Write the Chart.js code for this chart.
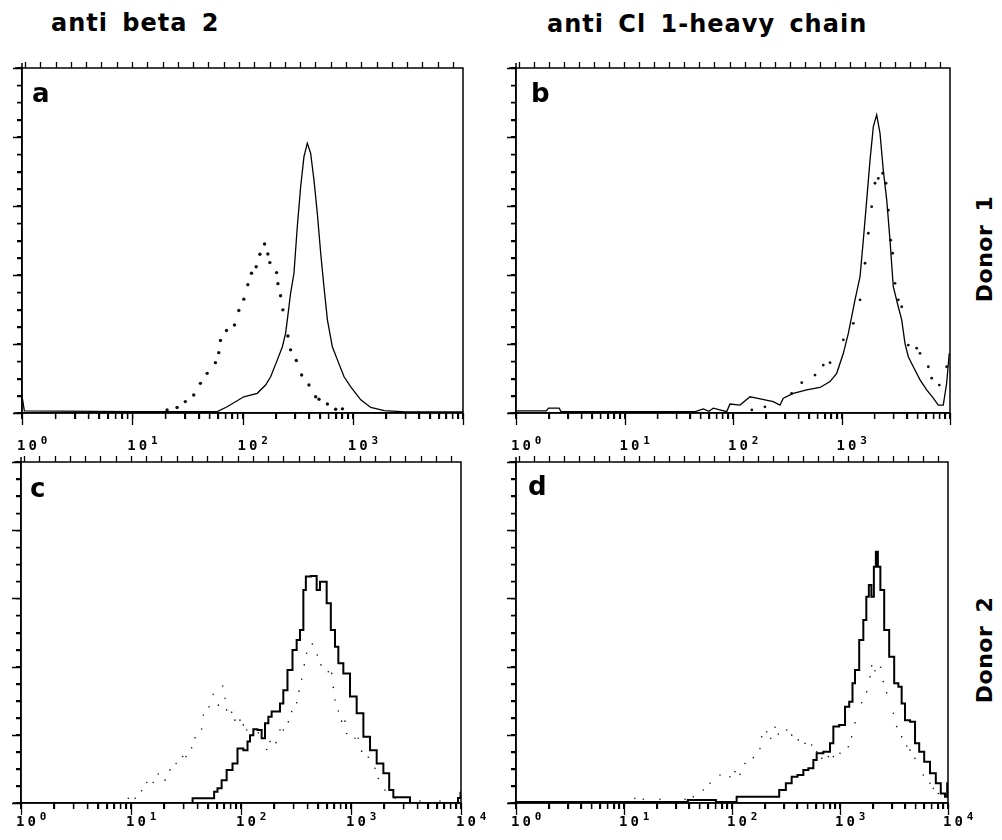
<!DOCTYPE html>
<html>
<head>
<meta charset="utf-8">
<script src="https://cdn.jsdelivr.net/npm/chart.js@4.4.1/dist/chart.umd.min.js"></script>
<style>
  body { margin: 0; background: #fff; width: 1002px; height: 840px; position: relative; overflow: hidden; font-family: "DejaVu Sans", sans-serif; color: #000; }
  canvas { position: absolute; }
  .head { position: absolute; font-weight: bold; font-size: 24px; line-height: 24px; letter-spacing: 1px; word-spacing: 5px; white-space: nowrap; }
  .letter { position: absolute; font-weight: bold; font-size: 26px; line-height: 26px; }
  .donor { position: absolute; font-weight: bold; font-size: 22px; line-height: 22px; white-space: nowrap; word-spacing: 5px; letter-spacing: 0.5px; transform: translate(-50%, -50%) rotate(-90deg); }
</style>
</head>
<body>
<div class="head" style="left:51px; top:11px;">anti beta 2</div>
<div class="head" style="left:547px; top:12px;">anti Cl 1-heavy chain</div>
<div class="donor" style="left:985px; top:249px;">Donor 1</div>
<div class="donor" style="left:985px; top:650px;">Donor 2</div>

<canvas id="pa" width="495" height="425" style="left:0px; top:40px;"></canvas>
<canvas id="pb" width="502" height="425" style="left:500px; top:40px;"></canvas>
<canvas id="pc" width="495" height="390" style="left:0px; top:450px;"></canvas>
<canvas id="pd" width="502" height="390" style="left:500px; top:450px;"></canvas>

<div class="letter" style="left:32px; top:80px;">a</div>
<div class="letter" style="left:531px; top:80px;">b</div>
<div class="letter" style="left:30px; top:475px;">c</div>
<div class="letter" style="left:528px; top:473px;">d</div>

<script>
// decade axis (fluorescence intensity, log)
const decadeValues = [1, 10, 100, 1000, 10000];
const decadeExponents = ['0', '1', '2', '3', '4'];
const tickBase = '10';

// a: anti beta 2, donor 1
const aSolidX = [1, 1.05, 10, 40, 58.9, 72.6, 102.7, 136, 162, 180, 207, 230, 246, 255, 273, 293, 314, 337, 361, 387, 415, 445, 477, 512, 548, 589, 653, 726, 834, 959, 1182, 1458, 1927, 3000, 10000];
const aSolidY = [5, 0.6, 0.4, 0.4, 0.4, 1.8, 4.7, 5.7, 8.1, 10.5, 15.4, 19.2, 23.1, 27, 34.7, 40.5, 54, 65.6, 74.3, 78.2, 75.3, 67.5, 57.9, 46.3, 36.6, 27, 19.2, 15.4, 10.5, 7.6, 3.8, 1.6, 0.7, 0.3, 0.3];
const aDotX = [20.7, 25.5, 30.3, 36.1, 41.5, 47.8, 56.8, 60.9, 63.1, 71.6, 84.6, 92.6, 102.8, 111.7, 120.7, 133, 143.8, 158.5, 169.8, 177, 203.7, 209.5, 221.5, 232.3, 258.2, 273, 307.6, 343.8, 400.5, 461, 494, 589, 700, 806];
const aDotY = [0.9, 1.6, 3.3, 5.2, 8.6, 11.5, 14.6, 17.5, 21.0, 23.9, 25.5, 29.7, 33.0, 37.2, 40.5, 42.4, 46.0, 49.0, 46.1, 43.6, 40.7, 37.5, 34.0, 29.9, 22.3, 18.3, 15.2, 11.0, 8.1, 4.7, 4.0, 2.6, 1.1, 1.2];

// b: anti Cl 1-heavy chain, donor 1
const bSolidX = [1, 1.9, 2.0, 2.5, 2.6, 20, 45, 53.2, 60, 65.8, 87.5, 93.8, 116, 143.5, 165.3, 235, 271, 291, 359.5, 478, 634, 784, 903, 1040, 1156, 1332, 1482, 1589, 1707, 1832, 1965, 2110, 2264, 2427, 2612, 2799, 3001, 3336, 3589, 3847, 4128, 4591, 5293, 6097, 7017, 7801, 8670, 9310, 9845];
const bSolidY = [0.6, 0.6, 1.4, 1.4, 0.4, 0.4, 0.4, 1.2, 0.5, 1.4, 0.4, 2.6, 2.3, 4.7, 4.3, 3.3, 2.3, 4.3, 5.7, 6.7, 7.4, 9.1, 11.5, 17.3, 23.1, 32.8, 39.5, 50.1, 61.7, 73.3, 83.0, 86.4, 81.1, 70.4, 61.7, 50.1, 36.6, 30.8, 27.0, 20.2, 16.3, 13.4, 9.6, 6.7, 4.3, 2.3, 2.3, 8.6, 17.3];
const bDotX = [149, 197, 347.5, 430, 570, 679, 784, 1040, 1285, 1482, 1648, 1767, 1897, 2036, 2184, 2399, 2572, 2702, 2840, 2962, 3112, 3339, 3589, 4128, 4931, 5293, 6310, 6778, 7966, 9310];
const bDotY = [0.9, 1.8, 5.7, 8.8, 11.0, 13.9, 14.6, 21.2, 26.0, 32.8, 43.4, 52.1, 59.8, 66.6, 68.0, 69.5, 66.6, 58.8, 50.1, 46.3, 37.6, 32.8, 30.8, 19.7, 18.8, 17.3, 13.4, 10.1, 8.1, 13.4];

// c: anti beta 2, donor 2
const cSolidX = [1, 30, 43.9, 56.0, 58.0, 64.4, 69.0, 79.5, 88.2, 97.9, 112.7, 116.5, 125.1, 134, 148.8, 159.5, 171.3, 183.5, 196.6, 218.3, 234.3, 251, 278.8, 309.7, 331.9, 356.4, 381.9, 395.7, 470.7, 504.5, 541.6, 580.2, 622.3, 690.6, 741.3, 794.3, 914, 1050, 1208, 1390, 1596, 1836, 2112, 2344, 2512, 3318, 3565, 9000, 9795, 10000];
const cSolidY = [0, 0, 1.4, 1.4, 3.3, 4.3, 6.7, 9.7, 11.6, 16.0, 15.5, 18.0, 19.9, 21.6, 21.4, 19.0, 23.4, 25.3, 26.8, 26.8, 29.2, 33.1, 39.0, 44.9, 47.8, 50.7, 62.5, 66.4, 66.6, 62.5, 64.9, 64.9, 58.6, 50.7, 45.8, 41.0, 38.0, 31.2, 26.3, 19.4, 15.5, 11.6, 8.7, 3.8, 1.7, 1.7, 0, 0, 1.5, 3];
const cDotX = [9.45, 10.9, 12.5, 13.9, 15.9, 17.7, 20.4, 22.6, 25.7, 29.5, 31.6, 35.6, 38.2, 43.9, 45.4, 51.2, 56.0, 62.2, 68.2, 71.6, 74.1, 82.3, 88.2, 97.9, 105, 112.7, 143.6, 171.3, 183.5, 208, 226.3, 242.5, 269.3, 289, 320.9, 336.7, 356.4, 376, 395.7, 444.8, 494, 533.6, 622, 668, 690.6, 715.6, 767, 823, 881, 914, 1087, 1164, 1250, 1437, 1652, 1771, 2037, 2512, 4238, 6442];
const cDotY = [1.4, 1.4, 3.6, 6.0, 6.0, 8.5, 6.7, 9.7, 11.6, 13.6, 13.6, 16.2, 19.1, 21.7, 25.8, 28.2, 31.9, 28.7, 34.3, 30.7, 27.3, 26.6, 24.3, 24.3, 22.9, 21.4, 20.6, 15.7, 18.0, 17.7, 21.4, 21.4, 23.8, 26.8, 29.4, 32.8, 36.3, 40.5, 43.9, 46.6, 43.4, 40.5, 38.5, 38.0, 33.9, 30.2, 27.0, 24.0, 24.0, 20.4, 19.0, 19.0, 15.2, 13.4, 10.2, 7.2, 3.8, 1.5, 0.6, 0.6];

// d: anti Cl 1-heavy chain, donor 2
const dSolidX = [1, 38, 40, 70, 72, 169.3, 259.4, 288.5, 344.4, 369.7, 442, 474.3, 547, 587, 630, 779.8, 837.5, 899, 1074, 1154, 1283, 1328, 1428, 1588, 1703, 1804, 1896, 2009, 2109, 2188, 2298, 2433, 2706, 3010, 3350, 3594, 3857, 4149, 4778, 5132, 5706, 6350, 7315, 8128, 9040, 9727, 9934];
const dSolidY = [0.3, 0.3, 0.9, 0.9, 0.3, 1.8, 1.8, 3.8, 5.8, 7.7, 8.2, 9.7, 10.2, 12.6, 14.6, 15.0, 17.5, 22.4, 22.9, 28.2, 29.7, 35.1, 39.0, 47.8, 53.7, 60.5, 63.9, 60.5, 69.3, 73.7, 69.3, 62.5, 50.7, 42.9, 35.1, 34.1, 29.2, 24.3, 23.8, 17.5, 15.0, 12.1, 8.7, 5.8, 2.8, 1.8, 5.8];
const dDotX = [12.6, 15.1, 21.5, 36.7, 43.8, 54.2, 62.5, 77.4, 95.8, 106.6, 118.6, 131.9, 157.5, 181.6, 188.4, 209.6, 228.2, 250.1, 268.4, 320.9, 357.3, 411, 474.3, 547, 608.6, 677.5, 779.8, 867.5, 1000, 1194, 1283, 1377, 1588, 1767, 1896, 1967, 2109, 2382, 2518, 2706, 3119, 3350, 3726, 4149, 4446, 4943, 5906, 6808, 7315, 8128, 9375];
const dDotY = [1.4, 1.1, 1.1, 1.1, 1.8, 3.8, 5.8, 8.2, 7.7, 9.2, 8.4, 11.6, 13.3, 16.0, 19.4, 20.9, 19.0, 22.2, 20.2, 21.4, 19.9, 18.5, 17.5, 17.0, 15.0, 13.1, 13.6, 13.6, 14.6, 16.5, 19.4, 23.5, 29.4, 32.6, 37.0, 40.2, 38.8, 39.8, 35.6, 32.3, 26.3, 22.4, 19.4, 16.7, 15.5, 13.1, 8.2, 5.8, 4.3, 2.8, 2.3];

// minor log ticks 1..9 per decade
let minorTicks = [];
for (let d = 0; d < 4; d++) {
  for (let k = 1; k <= 9; k++) minorTicks.push(k * Math.pow(10, d));
}
minorTicks.push(10000);

const TOP_TICKS = 28;

const framePlugin = {
  id: 'frame',
  afterDraw(chart) {
    const o = chart.options.plugins.frame;
    const ctx = chart.ctx;
    const a = chart.chartArea;
    const xs = chart.scales.x;
    const ys = chart.scales.y;
    ctx.save();
    ctx.strokeStyle = '#000';
    ctx.lineWidth = 1.5;
    ctx.beginPath();
    ctx.moveTo(a.left - 7, a.top);
    ctx.lineTo(a.right, a.top);
    ctx.lineTo(a.right, a.bottom);
    ctx.moveTo(a.left - 8, a.bottom);
    ctx.lineTo(a.right, a.bottom);
    ctx.moveTo(a.left, a.top - 5);
    ctx.lineTo(a.left, a.bottom + 4);
    ctx.stroke();

    ctx.lineWidth = 1.3;
    ctx.beginPath();
    // upper edge comb
    for (let i = 0; i <= TOP_TICKS; i++) {
      let px = Math.round(a.left + 3 + i * (a.right - a.left - 13) / TOP_TICKS) + 0.5;
      ctx.moveTo(px, a.top);
      ctx.lineTo(px, a.top - 6);
    }
    // log minor ticks below the axis
    for (let v of minorTicks) {
      let px = Math.round(xs.getPixelForValue(v)) + 0.5;
      ctx.moveTo(px, a.bottom);
      ctx.lineTo(px, a.bottom + 6);
    }
    // decade ticks
    for (let v of decadeValues) {
      let px = Math.round(xs.getPixelForValue(v)) + 0.5;
      ctx.moveTo(px, a.bottom);
      ctx.lineTo(px, a.bottom + 12);
    }
    // y ticks
    for (let v = 0; v <= 100; v += 5) {
      let py = Math.round(ys.getPixelForValue(v)) + 0.5;
      ctx.moveTo(a.left, py);
      ctx.lineTo(a.left - (v % 20 === 0 ? 9 : 5), py);
    }
    ctx.stroke();

    ctx.fillStyle = '#000';
    ctx.textAlign = 'left';
    ctx.textBaseline = 'alphabetic';
    for (let i = 0; i < o.labelCount; i++) {
      let px = xs.getPixelForValue(decadeValues[i]) - 5;
      ctx.font = 'bold 14px "DejaVu Sans Mono"';
      ctx.letterSpacing = '3px';
      ctx.fillText(tickBase, px, o.labelBase);
      let w = ctx.measureText(tickBase).width;
      ctx.font = 'bold 11px "DejaVu Sans Mono"';
      ctx.letterSpacing = '0px';
      ctx.fillText(decadeExponents[i], px + w + 1, o.labelBase - 6);
    }
    ctx.restore();
  }
};

function points(xs, ys) {
  return xs.map((x, i) => ({ x: x, y: ys[i] }));
}

function makePanel(p) {
  const cv = document.getElementById(p.id);
  const left = parseFloat(cv.style.left), top = parseFloat(cv.style.top);
  const yWidth = p.area.L - left;
  const xHeight = top + cv.height - p.area.B;
  return new Chart(cv, {
    type: 'line',
    data: {
      datasets: [
        {
          data: points(p.solidX, p.solidY),
          borderColor: '#000',
          borderWidth: p.lineW,
          pointRadius: 0,
          tension: 0,
          stepped: p.stepped,
          fill: false
        },
        {
          data: points(p.dotX, p.dotY),
          showLine: false,
          pointRadius: p.dotR,
          pointBorderWidth: 0,
          pointBackgroundColor: '#111',
          pointBorderColor: '#111'
        }
      ]
    },
    options: {
      responsive: false,
      animation: false,
      devicePixelRatio: 1,
      events: [],
      layout: { padding: { left: 0, bottom: 0, top: p.area.T - top, right: left + cv.width - p.area.R } },
      plugins: {
        legend: { display: false },
        tooltip: { enabled: false },
        frame: { labelCount: p.labelCount, labelBase: p.labelBase - top }
      },
      scales: {
        x: {
          type: 'logarithmic',
          min: 1,
          max: 10000,
          afterBuildTicks: s => { s.ticks = minorTicks.map(v => ({ value: v })); },
          afterFit: s => { s.height = xHeight; },
          ticks: { display: false, autoSkip: false },
          grid: { drawOnChartArea: false, drawTicks: true, tickLength: 6, color: '#000', lineWidth: 1.3 },
          border: { display: true, color: '#000', width: 1.5 }
        },
        y: {
          min: 0,
          max: 100,
          afterFit: s => { s.width = yWidth; },
          ticks: { display: false, stepSize: 5 },
          grid: { drawOnChartArea: false, drawTicks: true, tickLength: 5, color: '#000', lineWidth: 1.3 },
          border: { display: true, color: '#000', width: 1.5 }
        }
      }
    },
    plugins: [framePlugin]
  });
}

makePanel({ id: 'pa', area: { L: 22, T: 68, R: 463, B: 413 }, solidX: aSolidX, solidY: aSolidY, dotX: aDotX, dotY: aDotY, labelCount: 4, labelBase: 450, dotR: 1.7, lineW: 1.3, stepped: false });
makePanel({ id: 'pb', area: { L: 516, T: 68, R: 950, B: 413 }, solidX: bSolidX, solidY: bSolidY, dotX: bDotX, dotY: bDotY, labelCount: 4, labelBase: 450, dotR: 1.4, lineW: 1.3, stepped: false });
makePanel({ id: 'pc', area: { L: 21, T: 462, R: 461, B: 803 }, solidX: cSolidX, solidY: cSolidY, dotX: cDotX, dotY: cDotY, labelCount: 5, labelBase: 826, dotR: 0.8, lineW: 2, stepped: 'middle' });
makePanel({ id: 'pd', area: { L: 516, T: 462, R: 948, B: 803 }, solidX: dSolidX, solidY: dSolidY, dotX: dDotX, dotY: dDotY, labelCount: 5, labelBase: 826, dotR: 0.8, lineW: 2, stepped: 'middle' });
</script>
</body>
</html>
